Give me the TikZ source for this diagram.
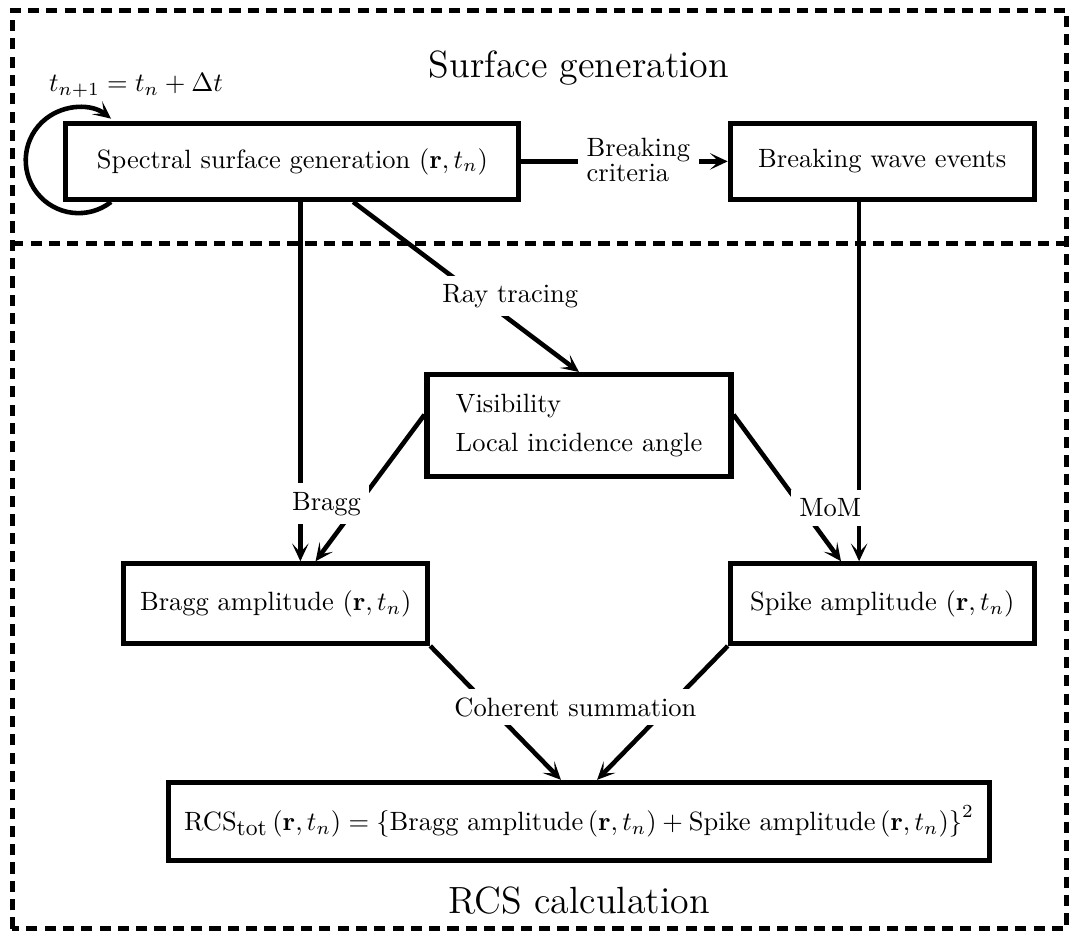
\RequirePackage{fix-cm}
\documentclass[tikz,border=0pt]{standalone}
\usepackage{amsmath}
\usepackage{amssymb}
\usepackage{tikz}
\usetikzlibrary{arrows.meta}

\begin{document}
\begin{tikzpicture}[>={Stealth[length=7pt,width=6.5pt,inset=3.5pt]},
  every node/.style={font=\fontsize{10.4}{12.5}\selectfont},
  box/.style={draw, line width=2pt, minimum width=4.2cm, minimum height=1.1cm},
  conn/.style={->, line width=1.8pt},
  lbl/.style={fill=white},
  frame/.style={line width=2pt, dash pattern=on 4.4pt off 2.8pt},
  title/.style={font=\fontsize{14.9}{18}\selectfont}]
\useasboundingbox (0,0) rectangle (14.77,12.87);
% dashed frames
\draw [frame] (0.17,0.04) rectangle (14.73,12.73);
\draw [frame] (0.17,9.51) -- (14.73,9.51);
\node [title] (top) at (8.00,11.93) {Surface generation};
\node [title] (bottom) at (8.00,0.43) {RCS calculation};
% boxes
\node [box, minimum width=6.26cm, minimum height=1.05cm] (spec) at (4.04,10.64) {Spectral surface generation $(\mathbf{r},t_n)$};
\node [box, minimum height=1.05cm] (brk) at (12.19,10.64) {Breaking wave events};
\node [box, minimum height=1.41cm, align=left] (vis) at (8.00,6.99) {Visibility\\[3pt]Local incidence angle};
\node [box] (bragg) at (3.81,4.53) {Bragg amplitude $(\mathbf{r},t_n)$};
\node [box] (spike) at (12.19,4.53) {Spike amplitude $(\mathbf{r},t_n)$};
\node [box, minimum height=1.08cm, inner xsep=6pt] (rcs) at (8.00,1.52) {$\mathrm{RCS}_{\mbox{\small tot}}\left(\mathbf{r},t_n\right)=\left\{\text{Bragg amplitude}\left(\mathbf{r},t_n\right)+\text{Spike amplitude}\left(\mathbf{r},t_n\right)\right\}^2$};
% time step loop
\node (tstep) at (1.88,11.69) {$t_{n+1}=t_n+\Delta t$};
\draw [conn] ([xshift=0.66cm]spec.south west) arc [start angle=-52, end angle=-308, radius=0.73cm];
% connectors
\draw [conn] (spec.east) -- (brk.west);
\draw [conn] ([xshift=0.11cm]spec.south) -- ([xshift=0.11cm]spec.south |- bragg.north);
\draw [conn] ([xshift=0.84cm]spec.south) -- (vis.north);
\draw [conn] ([yshift=0.15cm]vis.west) -- ([xshift=0.55cm]bragg.north);
\draw [conn] ([yshift=0.15cm]vis.east) -- ([xshift=-0.57cm]spike.north);
\draw [conn] ([xshift=-0.32cm]brk.south) -- ([xshift=-0.32cm]spike.north);
\draw [conn] (bragg.south east) -- ([xshift=-0.25cm]rcs.north);
\draw [conn] (spike.south west) -- ([xshift=0.25cm]rcs.north);
% labels on connectors
\node [lbl, align=left] (crit) at (8.82,10.66) {Breaking\\[-2.5pt]criteria};
\node [lbl] (ray) at (7.05,8.78) {Ray tracing};
\node [lbl] (braggl) at (4.51,5.91) {Bragg};
\node [lbl] (mom) at (11.47,5.85) {MoM};
\node [lbl] (sum) at (7.95,3.10) {Coherent summation};
\end{tikzpicture}
\end{document}
